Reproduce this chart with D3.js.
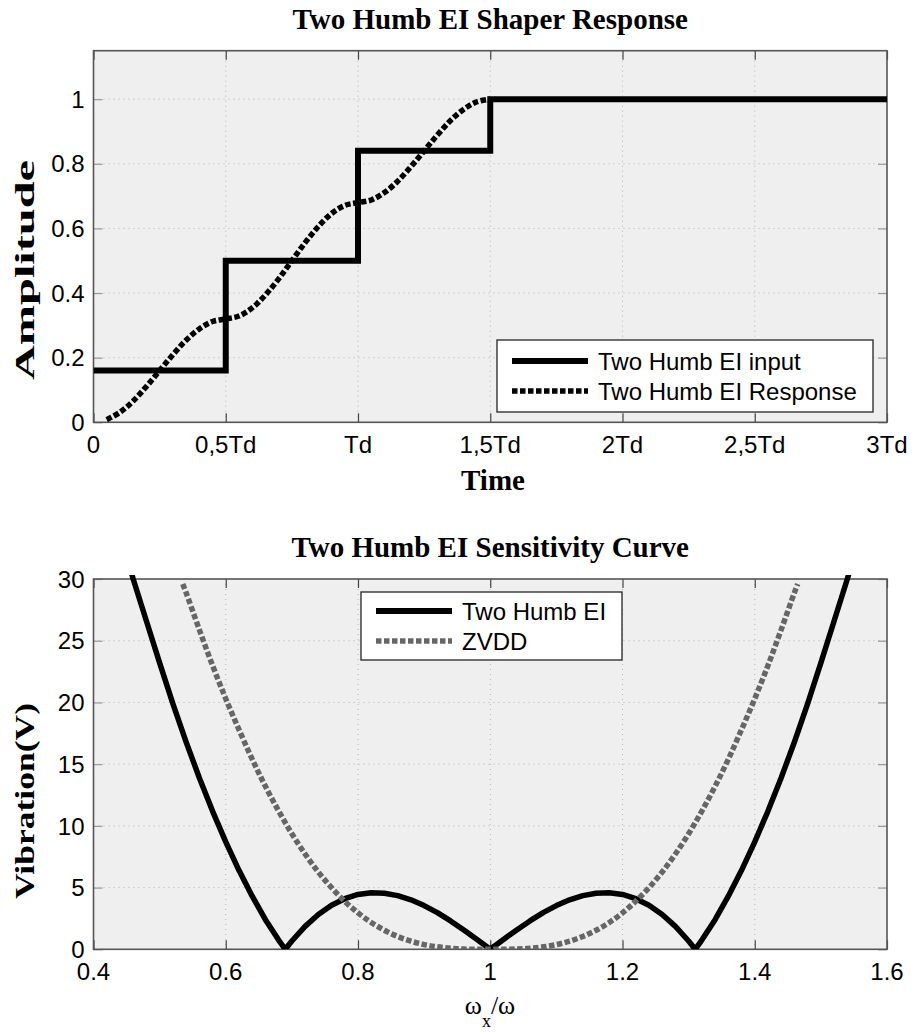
<!DOCTYPE html>
<html>
<head>
<meta charset="utf-8">
<script src="https://cdn.jsdelivr.net/npm/d3@7/dist/d3.min.js"></script>
<style>
  html, body { margin: 0; padding: 0; background: #ffffff; }
  svg { display: block; }
</style>
</head>
<body>
<svg id="fig" width="914" height="1033"></svg>
<script>
// ---------- Shaper response (time domain, in units of Td) ----------
const timeTicks = [0, 0.5, 1, 1.5, 2, 2.5, 3];
const timeTickLabels = ["0", "0,5Td", "Td", "1,5Td", "2Td", "2,5Td", "3Td"];
const ampTicks = [0, 0.2, 0.4, 0.6, 0.8, 1];
const ampTickLabels = ["0", "0.2", "0.4", "0.6", "0.8", "1"];

// staircase input: level holds from each time to the next
const inputTime = [0, 0.5, 1, 1.5, 3];
const inputAmp  = [0.16, 0.5, 0.84, 1, 1];

// system response
const respTime = [0.05, 0.10, 0.15, 0.20, 0.25, 0.30, 0.35, 0.40, 0.45, 0.50,
                  0.55, 0.60, 0.65, 0.70, 0.75, 0.80, 0.85, 0.90, 0.95, 1.00,
                  1.05, 1.10, 1.15, 1.20, 1.25, 1.30, 1.35, 1.40, 1.45, 1.50];
const respAmp  = [0.008, 0.031, 0.066, 0.111, 0.160, 0.209, 0.254, 0.289, 0.312, 0.320,
                  0.329, 0.354, 0.394, 0.444, 0.500, 0.556, 0.606, 0.646, 0.671, 0.680,
                  0.688, 0.711, 0.746, 0.791, 0.840, 0.889, 0.934, 0.969, 0.992, 1.000];

// ---------- Sensitivity curves ----------
const freqTicks = [0.4, 0.6, 0.8, 1, 1.2, 1.4, 1.6];
const freqTickLabels = ["0.4", "0.6", "0.8", "1", "1.2", "1.4", "1.6"];
const vibTicks = [0, 5, 10, 15, 20, 25, 30];
const vibTickLabels = ["0", "5", "10", "15", "20", "25", "30"];

const eiRatio = [0.44, 0.46, 0.48, 0.50, 0.52, 0.54, 0.56, 0.58, 0.60, 0.62, 0.64, 0.66, 0.68, 0.69,
                 0.70, 0.72, 0.74, 0.76, 0.78, 0.80, 0.82, 0.84, 0.86, 0.88, 0.90, 0.92, 0.94, 0.96, 0.98, 1.00,
                 1.02, 1.04, 1.06, 1.08, 1.10, 1.12, 1.14, 1.16, 1.18, 1.20, 1.22, 1.24, 1.26, 1.28, 1.30, 1.31,
                 1.32, 1.34, 1.36, 1.38, 1.40, 1.42, 1.44, 1.46, 1.48, 1.50, 1.52, 1.54, 1.56];
const eiVib   = [33.7, 30.0, 26.6, 23.2, 19.9, 16.8, 13.9, 11.2, 8.7, 6.4, 4.3, 2.4, 0.75, 0.0,
                 0.67, 1.86, 2.82, 3.57, 4.10, 4.44, 4.58, 4.54, 4.35, 4.01, 3.54, 2.97, 2.30, 1.57, 0.80, 0.0,
                 0.80, 1.57, 2.30, 2.97, 3.54, 4.01, 4.35, 4.54, 4.58, 4.44, 4.10, 3.57, 2.82, 1.86, 0.67, 0.0,
                 0.75, 2.4, 4.3, 6.4, 8.7, 11.2, 13.9, 16.8, 19.9, 23.2, 26.6, 30.0, 33.7];

const zvddRatio = [0.535, 0.54, 0.56, 0.58, 0.60, 0.62, 0.64, 0.66, 0.68, 0.70, 0.72, 0.74, 0.76, 0.78,
                   0.80, 0.82, 0.84, 0.86, 0.88, 0.90, 0.92, 0.94, 0.96, 0.98, 1.00,
                   1.02, 1.04, 1.06, 1.08, 1.10, 1.12, 1.14, 1.16, 1.18, 1.20, 1.22, 1.24, 1.26,
                   1.28, 1.30, 1.32, 1.34, 1.36, 1.38, 1.40, 1.42, 1.44, 1.46, 1.465];
const zvddVib   = [29.6, 28.9, 25.9, 23.0, 20.3, 17.8, 15.4, 13.2, 11.2, 9.36, 7.72, 6.26, 4.99, 3.89,
                   2.95, 2.17, 1.54, 1.04, 0.66, 0.38, 0.20, 0.08, 0.02, 0.0, 0.0,
                   0.0, 0.02, 0.08, 0.20, 0.38, 0.66, 1.04, 1.54, 2.17, 2.95, 3.89, 4.99, 6.26,
                   7.72, 9.36, 11.2, 13.2, 15.4, 17.8, 20.3, 23.0, 25.9, 28.9, 29.6];

const svg = d3.select("#fig");
const SANS = "'Liberation Sans', Arial, sans-serif";
const SERIF = "'Liberation Serif', 'Times New Roman', serif";

// Draws one MATLAB-style axes box with grid, ticks and labels
function drawAxes(cfg) {
  const g = svg.append("g");
  const { x, y, left, right, top, bottom } = cfg;

  g.append("rect")
    .attr("x", left).attr("y", top)
    .attr("width", right - left).attr("height", bottom - top)
    .attr("fill", "#efefef");

  // dotted grid
  g.selectAll(".gx").data(cfg.xTicks.slice(1, -1)).enter().append("line")
    .attr("x1", d => x(d)).attr("x2", d => x(d))
    .attr("y1", top).attr("y2", bottom)
    .attr("stroke", "#b4b4b4").attr("stroke-width", 1)
    .attr("stroke-dasharray", "1,4");
  g.selectAll(".gy").data(cfg.yTicks.filter(d => y(d) > top + 1 && y(d) < bottom - 1)).enter().append("line")
    .attr("x1", left).attr("x2", right)
    .attr("y1", d => y(d)).attr("y2", d => y(d))
    .attr("stroke", "#b4b4b4").attr("stroke-width", 1)
    .attr("stroke-dasharray", "1,4");

  // inward ticks using d3 axes
  const tickLen = 9;
  const xb = d3.axisTop(x).tickValues(cfg.xTicks).tickSize(tickLen).tickFormat("");
  const xt = d3.axisBottom(x).tickValues(cfg.xTicks).tickSize(tickLen).tickFormat("");
  const yl = d3.axisRight(y).tickValues(cfg.yTicks).tickSize(tickLen).tickFormat("");
  const yr = d3.axisLeft(y).tickValues(cfg.yTicks).tickSize(tickLen).tickFormat("");
  [[xb, `translate(0,${bottom})`, "#444"], [xt, `translate(0,${top})`, "#444"],
   [yl, `translate(${left},0)`, "#999"], [yr, `translate(${right},0)`, "#999"]].forEach(([ax, tr, col]) => {
    const a = g.append("g").attr("transform", tr).call(ax);
    a.select(".domain").remove();
    a.selectAll("line").attr("stroke", col).attr("stroke-width", 1.2);
  });

  // box
  g.append("rect")
    .attr("x", left).attr("y", top)
    .attr("width", right - left).attr("height", bottom - top)
    .attr("fill", "none").attr("stroke", "#555").attr("stroke-width", 1.6);

  // tick labels
  g.selectAll(".xl").data(cfg.xTicks).enter().append("text")
    .attr("x", d => x(d)).attr("y", bottom + 31)
    .attr("text-anchor", "middle")
    .attr("font-family", SANS).attr("font-size", 24).attr("fill", "#000")
    .text((d, i) => cfg.xLabels[i]);
  g.selectAll(".yl").data(cfg.yTicks).enter().append("text")
    .attr("x", left - 9).attr("y", d => y(d)).attr("dy", "0.36em")
    .attr("text-anchor", "end")
    .attr("font-family", SANS).attr("font-size", 24).attr("fill", "#000")
    .text((d, i) => cfg.yLabels[i]);

  // title
  g.append("text")
    .attr("x", (left + right) / 2).attr("y", top - 22)
    .attr("text-anchor", "middle")
    .attr("font-family", SERIF).attr("font-weight", "bold").attr("font-size", 29)
    .text(cfg.title);

  // y label (drawn elongated along its length)
  g.append("text")
    .attr("transform", `translate(34,${cfg.yLabelY}) rotate(-90)`)
    .attr("text-anchor", "middle")
    .attr("font-family", SERIF).attr("font-weight", "bold").attr("font-size", 27)
    .attr("textLength", cfg.yLabelLen).attr("lengthAdjust", "spacingAndGlyphs")
    .text(cfg.yLabel);

  const clipId = cfg.id + "-clip";
  svg.append("clipPath").attr("id", clipId).append("rect")
    .attr("x", left).attr("y", top - 4)
    .attr("width", right - left).attr("height", bottom - top + 4);
  const plot = svg.append("g").attr("clip-path", `url(#${clipId})`);
  return { g, plot };
}

// Legend box with line samples
function drawLegend(box, items) {
  const g = svg.append("g");
  g.append("rect")
    .attr("x", box.x).attr("y", box.y).attr("width", box.w).attr("height", box.h)
    .attr("fill", "#ffffff").attr("stroke", "#333").attr("stroke-width", 1.4);
  items.forEach((it, i) => {
    const cy = box.y + box.first + i * 30;
    g.append("line")
      .attr("x1", box.x + 15).attr("x2", box.x + 91)
      .attr("y1", cy).attr("y2", cy)
      .attr("stroke", it.color).attr("stroke-width", it.width)
      .attr("stroke-dasharray", it.dash || null);
    g.append("text")
      .attr("x", box.x + 101).attr("y", cy).attr("dy", "0.36em")
      .attr("font-family", SANS).attr("font-size", 24).attr("fill", "#000")
      .text(it.label);
  });
}

// ---------- Top: shaper response ----------
{
  const left = 93.5, right = 887, top = 50.7, bottom = 422.3;
  const x = d3.scaleLinear().domain([0, 3]).range([left, right]);
  const y = d3.scaleLinear().domain([0, 1.15]).range([bottom, top]);
  const { g, plot } = drawAxes({
    id: "resp", x, y, left, right, top, bottom,
    xTicks: timeTicks, xLabels: timeTickLabels,
    yTicks: ampTicks, yLabels: ampTickLabels,
    title: "Two Humb EI Shaper Response",
    yLabel: "Amplitude", yLabelY: 270, yLabelLen: 220
  });

  const inputData = inputTime.map((t, i) => [t, inputAmp[i]]);
  plot.append("path")
    .attr("d", d3.line().x(d => x(d[0])).y(d => y(d[1])).curve(d3.curveStepAfter)(inputData))
    .attr("fill", "none").attr("stroke", "#000").attr("stroke-width", 6);

  const respData = respTime.map((t, i) => [t, respAmp[i]]);
  plot.append("path")
    .attr("d", d3.line().x(d => x(d[0])).y(d => y(d[1])).curve(d3.curveCatmullRom)(respData))
    .attr("fill", "none").attr("stroke", "#000").attr("stroke-width", 5.5)
    .attr("stroke-dasharray", "5.5,2.5");

  svg.append("text")
    .attr("x", 493).attr("y", 490).attr("text-anchor", "middle")
    .attr("font-family", SERIF).attr("font-weight", "bold").attr("font-size", 29)
    .text("Time");

  drawLegend({ x: 497, y: 340, w: 376, h: 72, first: 21 }, [
    { label: "Two Humb EI input", color: "#000", width: 6 },
    { label: "Two Humb EI Response", color: "#000", width: 5.5, dash: "5.5,2.5" }
  ]);
}

// ---------- Bottom: sensitivity curves ----------
{
  const left = 93.5, right = 887, top = 579, bottom = 949.3;
  const x = d3.scaleLinear().domain([0.4, 1.6]).range([left, right]);
  const y = d3.scaleLinear().domain([0, 30]).range([bottom, top]);
  const { g, plot } = drawAxes({
    id: "sens", x, y, left, right, top, bottom,
    xTicks: freqTicks, xLabels: freqTickLabels,
    yTicks: vibTicks, yLabels: vibTickLabels,
    title: "Two Humb EI Sensitivity Curve",
    yLabel: "Vibration(V)", yLabelY: 801, yLabelLen: 196
  });

  const eiData = eiRatio.map((r, i) => [r, eiVib[i]]);
  plot.append("path")
    .attr("d", d3.line().x(d => x(d[0])).y(d => y(d[1]))(eiData))
    .attr("fill", "none").attr("stroke", "#000").attr("stroke-width", 5.5)
    .attr("stroke-linejoin", "round");

  const zvddData = zvddRatio.map((r, i) => [r, zvddVib[i]]);
  plot.append("path")
    .attr("d", d3.line().x(d => x(d[0])).y(d => y(d[1])).curve(d3.curveCatmullRom)(zvddData))
    .attr("fill", "none").attr("stroke", "#666").attr("stroke-width", 5.5)
    .attr("stroke-dasharray", "5.5,2.5");

  // x label: omega_x / omega
  const xl = svg.append("text")
    .attr("x", 490).attr("y", 1014).attr("text-anchor", "middle")
    .attr("font-family", SERIF).attr("font-size", 26);
  xl.append("tspan").text("ω");
  xl.append("tspan").attr("font-size", 18).attr("dy", 13).text("x");
  xl.append("tspan").attr("dy", -13).text("/ω");

  drawLegend({ x: 361, y: 592, w: 261, h: 68, first: 19 }, [
    { label: "Two Humb EI", color: "#000", width: 6 },
    { label: "ZVDD", color: "#666", width: 5.5, dash: "5.5,2.5" }
  ]);
}
</script>
</body>
</html>
